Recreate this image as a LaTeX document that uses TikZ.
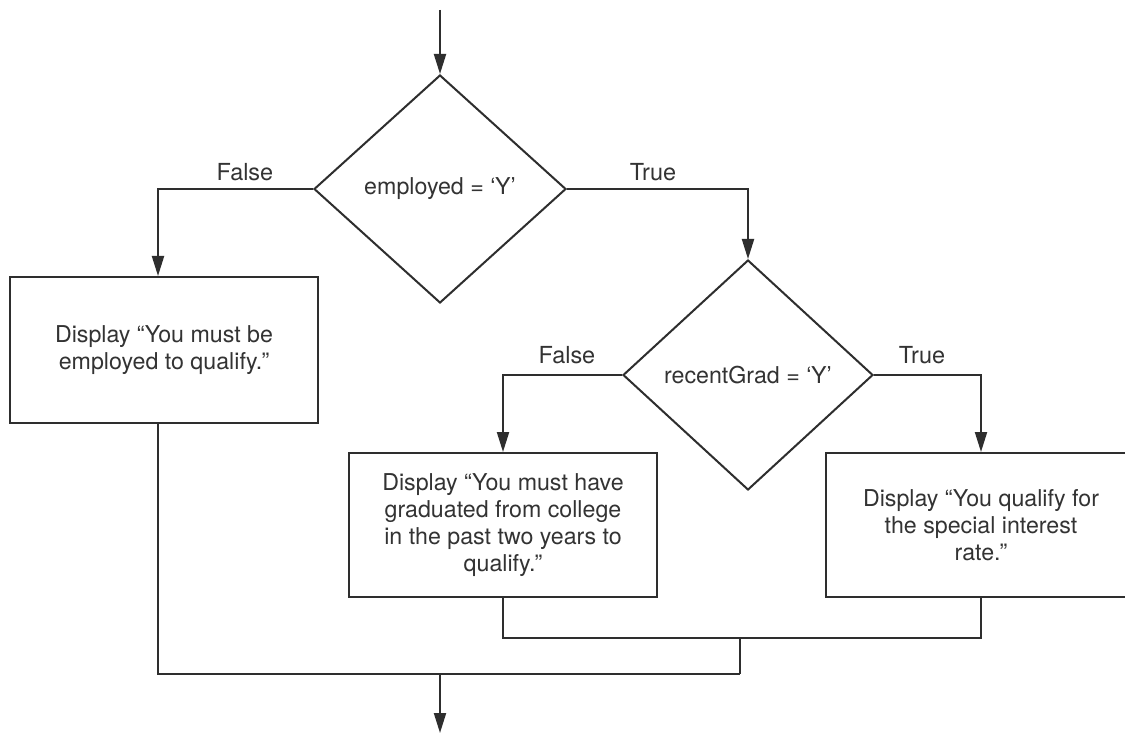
\documentclass[tikz,border=0pt]{standalone}
\usepackage{fontspec}
\setmainfont{TeX Gyre Heros}
\usetikzlibrary{shapes.geometric,arrows.meta,calc}
\definecolor{ln}{HTML}{2E2E2E}
\definecolor{tx}{HTML}{333333}
\begin{document}
\begin{tikzpicture}[x=0.75pt,y=-0.75pt,
  line/.style={draw=ln,line width=1.5pt},
  arr/.style={line,-{Triangle[length=15pt,width=9pt]}},
  decision/.style={diamond,line,inner sep=0pt,font=\fontsize{17.4}{20.5}\selectfont,text=tx},
  procbox/.style={rectangle,line,inner sep=0pt,align=center,font=\fontsize{17.4}{20.4}\selectfont,text=tx},
  lbl/.style={font=\fontsize{17.6}{20.5}\selectfont,text=tx,inner sep=0pt}]
\useasboundingbox (0,0) rectangle (1125,734);
\fill[white] (0,0) rectangle (1125,734);
\clip (0,0) rectangle (1125,734);
\node[decision,minimum width=189pt,minimum height=171pt] (d1) at (440,189) {employed = ‘Y’};
\node[decision,minimum width=187.5pt,minimum height=172.5pt] (d2) at (748,375) {recentGrad = ‘Y’};
\node[procbox,minimum width=231pt,minimum height=109.5pt] (b1) at (164,350) {Display “You must be\\employed to qualify.”};
\node[procbox,minimum width=231pt,minimum height=108pt] (b2) at (503,525) {Display “You must have\\graduated from college\\in the past two years to\\qualify.”};
\node[procbox,minimum width=232pt,minimum height=108pt] (b3) at (981,525) {Display “You qualify for\\the special interest\\rate.”};
\coordinate (start) at (440,10);
\coordinate (m1) at (740,638);
\coordinate (m2) at (740,674);
\coordinate (m3) at (440,674);
\coordinate (stop) at (440,733);
\draw[arr] (start) -- (d1.north);
\draw[arr] (d1.west) -| ([xshift=-4.5pt]b1.north);
\draw[arr] (d1.east) -| (d2.north);
\draw[arr] (d2.west) -| (b2.north);
\draw[arr] (d2.east) -| (b3.south |- d2.east) -- (b3.north);
\draw[line] (b2.south) |- (b3.south |- m1) -- (b3.south);
\draw[line] (m1) -- (m2);
\draw[line] ([xshift=-4.5pt]b1.south) |- (m2);
\draw[arr] (m3) -- (stop);
\node[lbl] (f1) at (245,172) {False};
\node[lbl] (t1) at (653,172) {True};
\node[lbl] (f2) at (567,355) {False};
\node[lbl] (t2) at (922,355) {True};
\end{tikzpicture}
\end{document}
